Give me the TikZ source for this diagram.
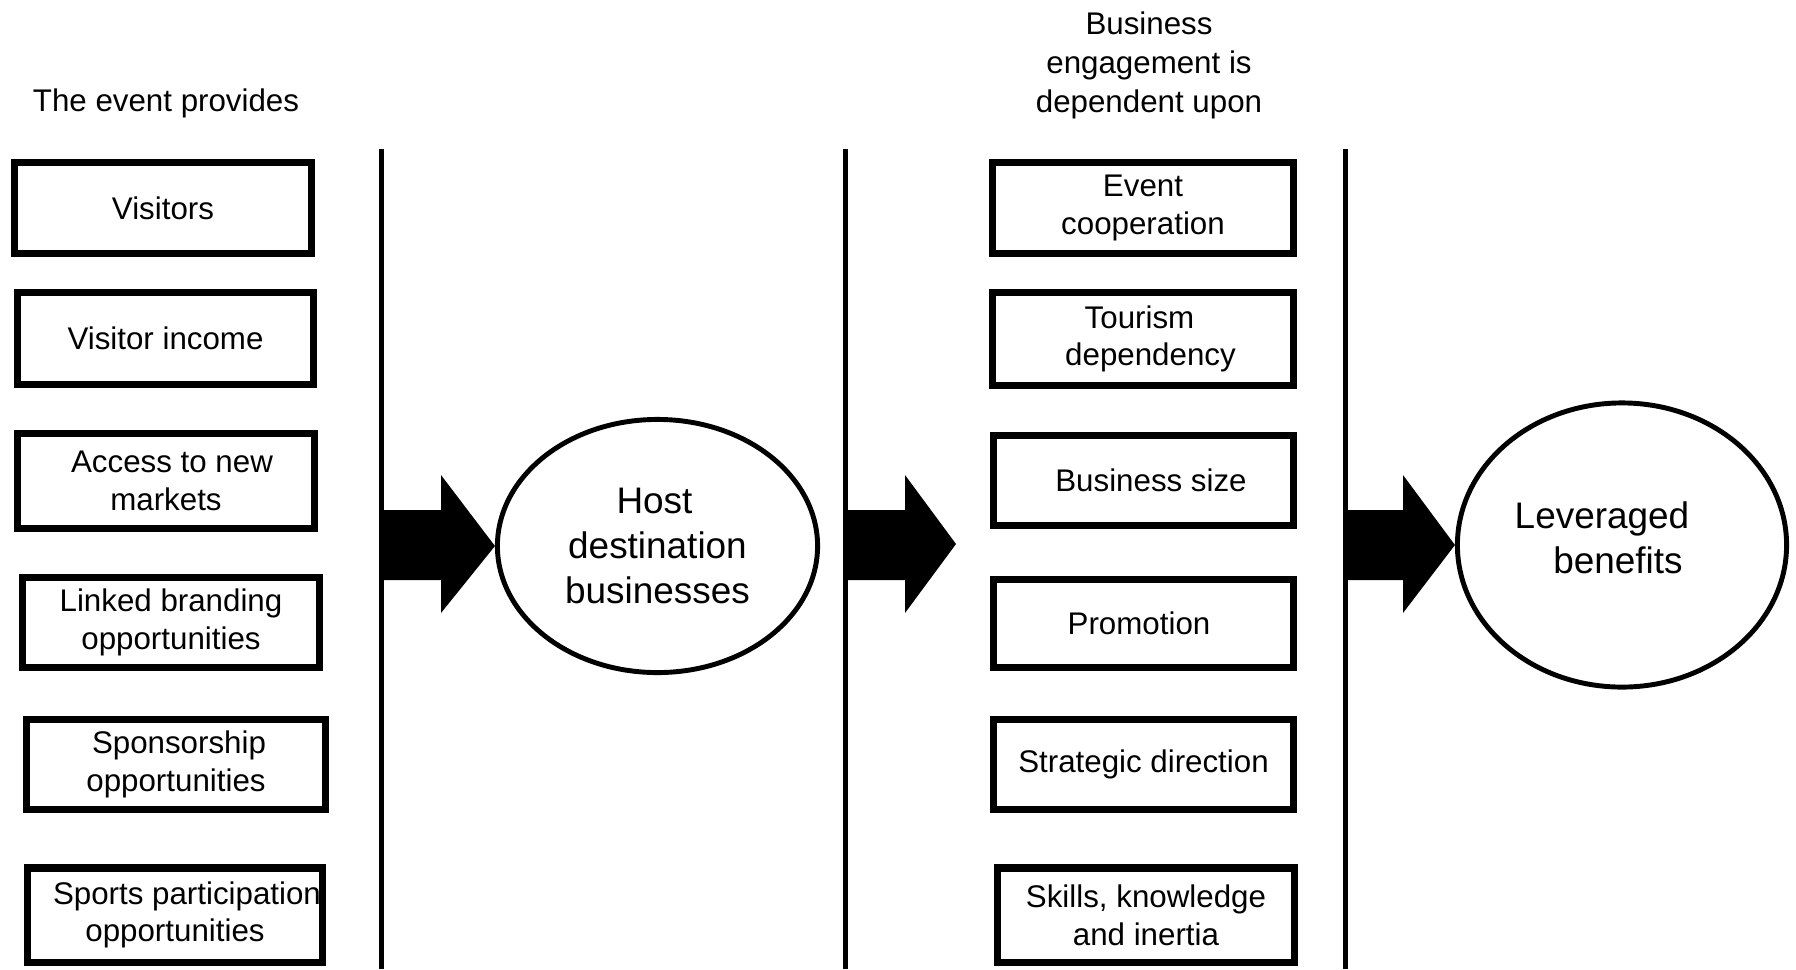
\documentclass[tikz,border=0pt]{standalone}
\usepackage{fontspec}
\setmainfont{Liberation Sans}
\usetikzlibrary{shapes.geometric,calc}
\begin{document}
\begin{tikzpicture}[x=0.01cm,y=-0.01cm,
  txt/.style={font=\fontsize{8.9}{11.2}\selectfont, align=center, inner sep=0pt},
  box/.style={draw, line width=2pt, inner sep=0pt, minimum width=2.96cm, minimum height=0.91cm,
              font=\fontsize{8.9}{10.7}\selectfont, align=center},
  oval/.style={draw, ellipse, line width=1.4pt, inner sep=0pt,
              font=\fontsize{10.5}{12.9}\selectfont, align=center},
  divider/.style={line width=1.2pt},
  blockarrow/.style={fill=black, draw=none}]
\useasboundingbox (0,0) rectangle (1796,969);

% headings
\node[txt] (t1) at (166,103) {The event provides};
\node[txt] (t2) at (1149,65.5) {Business\\engagement is\\dependent upon};

% left column
\node[box] (l1) at (163,208) {Visitors};
\node[box] (l2) at (165.5,338.5) {Visitor income};
\node[box, minimum height=0.94cm] (l3) at (166,481) {\hspace*{0.12cm}Access to new\\markets};
\node[box, minimum height=0.90cm] (l4) at (171,622.5) {Linked branding\\opportunities};
\node[box, minimum width=2.98cm, minimum height=0.90cm] (l5) at (176,764.5) {\hspace*{0.06cm}Sponsorship\\opportunities};
\node[box, minimum width=2.94cm, minimum height=0.94cm] (l6) at (175,915) {\hspace*{0.24cm}Sports participation\\opportunities};

% right column
\node[box, minimum width=3.0cm] (r1) at (1143,208) {Event\\cooperation};
\node[box, minimum width=3.0cm, minimum height=0.93cm] (r2) at (1143,339) {Tourism\hspace*{0.07cm}\\\hspace*{0.15cm}dependency};
\node[box, minimum width=3.0cm, minimum height=0.90cm] (r3) at (1143.5,480.5) {\hspace*{0.15cm}Business size};
\node[box, minimum width=3.0cm, minimum height=0.88cm] (r4) at (1143.5,623.5) {Promotion\hspace*{0.09cm}};
\node[box, minimum width=3.0cm, minimum height=0.90cm] (r5) at (1143.5,764.5) {Strategic direction};
\node[box, minimum width=2.97cm, minimum height=0.94cm] (r6) at (1146,915) {Skills, knowledge\\and inertia};

% dividers
\coordinate (d1t) at (381.5,149); \coordinate (d1b) at (381.5,969);
\coordinate (d2t) at (845.5,149); \coordinate (d2b) at (845.5,969);
\coordinate (d3t) at (1345.5,149); \coordinate (d3b) at (1345.5,969);
\draw[divider] (d1t) -- (d1b);
\draw[divider] (d2t) -- (d2b);
\draw[divider] (d3t) -- (d3b);

% ellipses
\node[oval, minimum width=3.2cm, minimum height=2.53cm] (host) at (657.5,546)
  {Host\hspace*{0.06cm}\\destination\\businesses};
\node[oval, minimum width=3.29cm, minimum height=2.84cm,
      label={[font=\fontsize{10.5}{12.9}\selectfont, align=center, yshift=2pt]center:Leveraged\hspace*{0.4cm}\\benefits\hspace*{0.08cm}}] (lev) at (1622,545) {};

% block arrows
\coordinate (tip2) at (956,544);
\fill[blockarrow] (381.5,510) -- (441,510) -- (441,475) -- (host.west) -- (441,613) -- (441,580) -- (381.5,580) -- cycle;
\fill[blockarrow] (845.5,510) -- (905,510) -- (905,475) -- (tip2) -- (905,613) -- (905,580) -- (845.5,580) -- cycle;
\fill[blockarrow] (1345.5,510) -- (1403,510) -- (1403,475) -- (lev.west) -- (1403,613) -- (1403,580) -- (1345.5,580) -- cycle;
\end{tikzpicture}
\end{document}
